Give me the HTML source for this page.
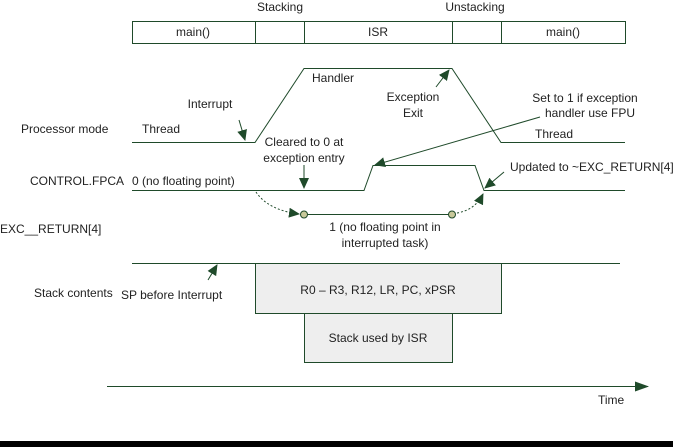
<!DOCTYPE html>
<html><head><style>
html,body{margin:0;padding:0;background:#fff;}
svg{display:block;}
text{font-family:"Liberation Sans",sans-serif;font-size:12px;fill:#222;}
</style></head><body>
<svg width="673" height="447" viewBox="0 0 673 447" xmlns="http://www.w3.org/2000/svg">
<defs>
<marker id="a" markerWidth="11" markerHeight="10" refX="10" refY="5" orient="auto" markerUnits="userSpaceOnUse">
<path d="M0,0 L11,5 L0,10 z" fill="#1f4a2a"/></marker>
<marker id="b" markerWidth="14" markerHeight="10" refX="13" refY="5" orient="auto" markerUnits="userSpaceOnUse">
<path d="M0,0 L14,5 L0,10 z" fill="#1f4a2a"/></marker>
</defs>
<g stroke="#1f4a2a" fill="none" stroke-width="1">
<rect x="132.5" y="21.5" width="493" height="22"/>
<line x1="255.5" y1="21" x2="255.5" y2="43"/>
<line x1="304.5" y1="21" x2="304.5" y2="43"/>
<line x1="452.5" y1="21" x2="452.5" y2="43"/>
<line x1="501.5" y1="21" x2="501.5" y2="43"/>
<polyline points="132,142.5 255,142.5 304,68.5 452,68.5 501,142.5 625,142.5"/>
<polyline points="132,190.5 364,190.5 373,165.5 475,165.5 484,190.5 625,190.5"/>
<line x1="304" y1="214.5" x2="452" y2="214.5"/>
<line x1="132" y1="263.5" x2="620" y2="263.5"/>
<line x1="107" y1="386.5" x2="648" y2="386.5" marker-end="url(#b)"/>
<line x1="239" y1="120" x2="245" y2="140" marker-end="url(#a)"/>
<line x1="436" y1="87" x2="449" y2="70" marker-end="url(#a)"/>
<line x1="540" y1="117" x2="375" y2="165" marker-end="url(#a)"/>
<line x1="304" y1="165" x2="304" y2="188" marker-end="url(#a)"/>
<line x1="504" y1="172" x2="485" y2="188" marker-end="url(#a)"/>
<line x1="208" y1="280" x2="217" y2="265" marker-end="url(#a)"/>
<path d="M256,192 Q268,210 299,214" stroke-dasharray="2,2" marker-end="url(#a)"/>
<path d="M457,213 Q475,210 483,194" stroke-dasharray="2,2" marker-end="url(#a)"/>
</g>
<circle cx="304" cy="214.5" r="3.5" fill="#c8c89a" stroke="#1f4a2a"/>
<circle cx="452" cy="214.5" r="3.5" fill="#c8c89a" stroke="#1f4a2a"/>
<rect x="255.5" y="263.5" width="246" height="50" fill="#eeeeee" stroke="#1f4a2a"/>
<rect x="304.5" y="313.5" width="148" height="49" fill="#eeeeee" stroke="#1f4a2a"/>
<g text-anchor="middle">
<text x="280" y="11">Stacking</text>
<text x="475" y="11">Unstacking</text>
<text x="193" y="36">main()</text>
<text x="378" y="36">ISR</text>
<text x="563" y="36">main()</text>
<text x="333" y="82">Handler</text>
<text x="210" y="108">Interrupt</text>
<text x="413" y="101">Exception</text>
<text x="413" y="117">Exit</text>
<text x="585" y="102">Set to 1 if exception</text>
<text x="590" y="117">handler use FPU</text>
<text x="304" y="146">Cleared to 0 at</text>
<text x="304" y="162">exception entry</text>
<text x="385" y="231">1 (no floating point in</text>
<text x="385" y="247">interrupted task)</text>
<text x="378" y="294">R0 – R3, R12, LR, PC, xPSR</text>
<text x="378" y="342">Stack used by ISR</text>
</g>
<text x="21" y="133">Processor mode</text>
<text x="142" y="133">Thread</text>
<text x="535" y="138">Thread</text>
<text x="30" y="185">CONTROL.FPCA</text>
<text x="132" y="185">0 (no floating point)</text>
<text x="510" y="171">Updated to ~EXC_RETURN[4]</text>
<text x="0" y="233">EXC__RETURN[4]</text>
<text x="34" y="297">Stack contents</text>
<text x="121" y="299">SP before Interrupt</text>
<text x="598" y="404">Time</text>
<rect x="0" y="441" width="673" height="6" fill="#000"/>
</svg>
</body></html>
